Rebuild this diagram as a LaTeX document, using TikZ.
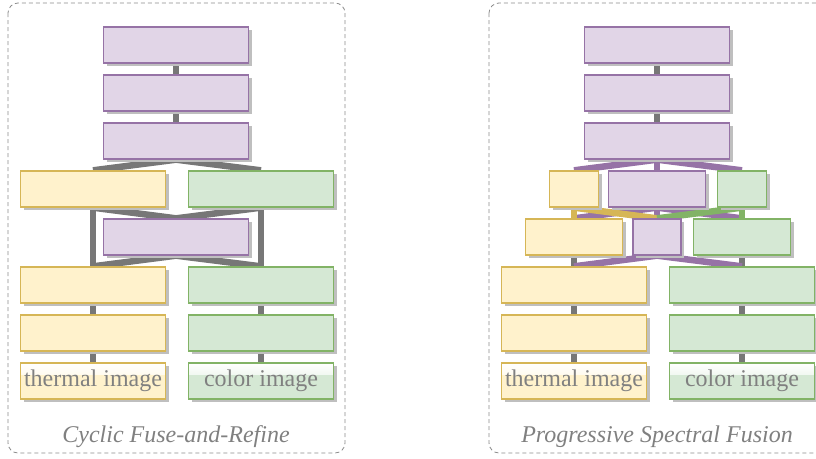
\documentclass[tikz,border=0pt]{standalone}
\usepackage{fontspec}
\setmainfont{Liberation Serif}
\usetikzlibrary{shadows,backgrounds}

\definecolor{purfill}{HTML}{E1D5E7}
\definecolor{purline}{HTML}{9673A6}
\definecolor{yelfill}{HTML}{FFF2CC}
\definecolor{yelline}{HTML}{D6B656}
\definecolor{grnfill}{HTML}{D5E8D4}
\definecolor{grnline}{HTML}{82B366}
\definecolor{wire}{HTML}{777777}
\definecolor{txtgray}{HTML}{808080}

\tikzset{
  blk/.style={rectangle, line width=1.3pt, inner sep=0pt, minimum height=36pt,
    drop shadow={shadow xshift=3pt, shadow yshift=-3pt, fill=black!25, opacity=1}},
  pur/.style={blk, draw=purline, fill=purfill},
  yel/.style={blk, draw=yelline, fill=yelfill},
  grn/.style={blk, draw=grnline, fill=grnfill},
  glass/.style={path picture={
    \fill[top color=white, bottom color=#1] (path picture bounding box.north west)
      rectangle ([yshift=-11pt]path picture bounding box.north east);}},
  lbl/.style={font=\fontsize{24}{28}\selectfont, text=txtgray},
  conn/.style={line width=6.5pt, draw=wire},
  frame/.style={draw=black!45, line width=0.8pt, dash pattern=on 4pt off 3pt, rounded corners=10pt}
}

\begin{document}
\begin{tikzpicture}[x=1pt,y=-1pt]
\useasboundingbox (0,0) rectangle (816,458);
\clip (0,0) rectangle (816,458);

% Cyclic Fuse-and-Refine
\node[pur, minimum width=145pt] (L1) at (176,45) {};
\node[pur, minimum width=145pt] (L2) at (176,93) {};
\node[pur, minimum width=145pt] (L3) at (176,141) {};
\node[yel, minimum width=145pt] (Lt4) at (93,189) {};
\node[grn, minimum width=145pt] (Lc4) at (261,189) {};
\node[pur, minimum width=145pt] (Lm5) at (176,237) {};
\node[yel, minimum width=145pt] (Lt6) at (93,285) {};
\node[grn, minimum width=145pt] (Lc6) at (261,285) {};
\node[yel, minimum width=145pt] (Lt7) at (93,333) {};
\node[grn, minimum width=145pt] (Lc7) at (261,333) {};
\node[yel, glass=yelfill, minimum width=145pt, lbl] (Lt8) at (93,381) {thermal image};
\node[grn, glass=grnfill, minimum width=145pt, lbl] (Lc8) at (261,381) {color image};
\node[lbl, font=\fontsize{24}{28}\selectfont\itshape] (Lcap) at (176,437) {Cyclic Fuse-and-Refine};

% Progressive Spectral Fusion
\node[pur, minimum width=145pt] (R1) at (657,45) {};
\node[pur, minimum width=145pt] (R2) at (657,93) {};
\node[pur, minimum width=145pt] (R3) at (657,141) {};
\node[yel, minimum width=49pt] (Rt4) at (574,189) {};
\node[pur, minimum width=97pt] (Rm4) at (657,189) {};
\node[grn, minimum width=49pt] (Rc4) at (742,189) {};
\node[yel, minimum width=97pt] (Rt5) at (574,237) {};
\node[pur, minimum width=48pt] (Rm5) at (657,237) {};
\node[grn, minimum width=97pt] (Rc5) at (742,237) {};
\node[yel, minimum width=145pt] (Rt6) at (574,285) {};
\node[grn, minimum width=145pt] (Rc6) at (742,285) {};
\node[yel, minimum width=145pt] (Rt7) at (574,333) {};
\node[grn, minimum width=145pt] (Rc7) at (742,333) {};
\node[yel, glass=yelfill, minimum width=145pt, lbl] (Rt8) at (574,381) {thermal image};
\node[grn, glass=grnfill, minimum width=145pt, lbl] (Rc8) at (742,381) {color image};
\node[lbl, font=\fontsize{24}{28}\selectfont\itshape] (Rcap) at (657,437) {Progressive Spectral Fusion};

\begin{scope}[on background layer]
  \draw[frame] (8,3) rectangle (345,453);
  \draw[frame] (489,3) rectangle (830,453);

  \draw[conn] (L1) -- (L2) -- (L3);
  \draw[conn] (Lt4.north) -- (L3.south) -- (Lc4.north);
  \draw[conn] (Lt4.south) -- (Lm5.north) -- (Lc4.south);
  \draw[conn] (Lt4.south) -- (Lt6.north);
  \draw[conn] (Lc4.south) -- (Lc6.north);
  \draw[conn] (Lt6.north) -- (Lm5.south) -- (Lc6.north);
  \draw[conn] (Lt6) -- (Lt7) -- (Lt8);
  \draw[conn] (Lc6) -- (Lc7) -- (Lc8);

  \draw[conn] (R1) -- (R2) -- (R3);
  \draw[conn, draw=purline] (Rt4.north) -- (R3.south) -- (Rc4.north);
  \draw[conn, draw=purline] (R3.south) -- (Rm4.north);
  \draw[conn, draw=purline] (Rt5.north) -- (Rm4.south) -- (Rc5.north);
  \draw[conn, draw=purline] (Rm4.south) -- (Rm5.north);
  \draw[conn, draw=yelline] (Rt4.south) -- (Rt5.north);
  \draw[conn, draw=yelline] (Rt4.south) -- (Rm5.north);
  \draw[conn, draw=grnline] (Rc4.south) -- (Rc5.north);
  \draw[conn, draw=grnline] (Rc4.south) -- (Rm5.north);
  \draw[conn] (Rt5) -- (Rt6);
  \draw[conn] (Rc5) -- (Rc6);
  \draw[conn, draw=purline] (Rt6.north) -- (Rm5.south) -- (Rc6.north);
  \draw[conn] (Rt6) -- (Rt7) -- (Rt8);
  \draw[conn] (Rc6) -- (Rc7) -- (Rc8);
\end{scope}
\end{tikzpicture}
\end{document}
